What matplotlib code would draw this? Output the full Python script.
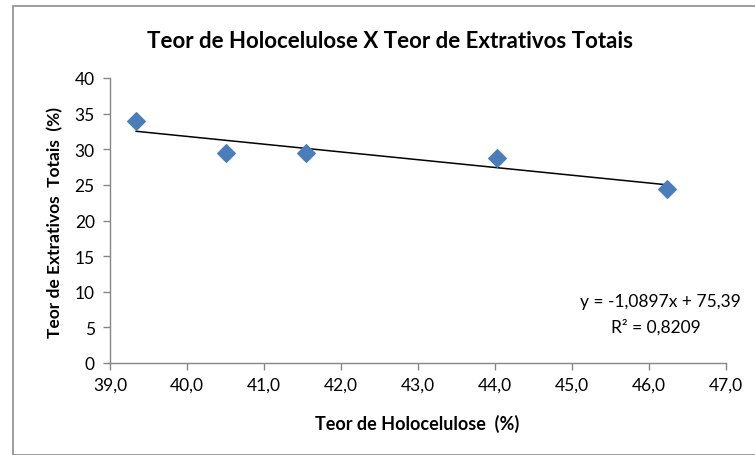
import matplotlib
matplotlib.use("Agg")
import matplotlib.pyplot as plt
import numpy as np
from matplotlib.patches import Rectangle

plt.rcParams['font.family'] = ['Lato', 'DejaVu Sans']

holocelulose = [39.34, 40.50, 41.55, 44.02, 46.24]
extrativos = [34.0, 29.5, 29.5, 28.8, 24.4]
slope = -1.0897
intercept = 75.39
x_ticks = [39, 40, 41, 42, 43, 44, 45, 46, 47]
y_ticks = [0, 5, 10, 15, 20, 25, 30, 35, 40]

fig = plt.figure(figsize=(7.55, 4.56), dpi=100)
fig.patches.append(Rectangle((13/755, 0), 1, 1 - 7/456, transform=fig.transFigure,
                             fill=False, edgecolor='#8c8c8c', linewidth=1.2))
ax = fig.add_axes([110/755, 1 - 364/456, (726 - 110)/755, (364 - 79)/456])

ax.scatter(holocelulose, extrativos, marker='D', s=80, color='#4a7ebb', zorder=3)
xf = np.array([min(holocelulose), max(holocelulose)])
ax.plot(xf, slope * xf + intercept, color='black', linewidth=1.1, zorder=2)

ax.set_xlim(39, 47)
ax.set_ylim(0, 40)
ax.set_xticks(x_ticks)
ax.set_xticklabels([f"{v:.1f}".replace('.', ',') for v in x_ticks])
ax.set_yticks(y_ticks)
ax.set_yticklabels([str(v) for v in y_ticks])
for s in ['top', 'right']:
    ax.spines[s].set_visible(False)
for s in ['left', 'bottom']:
    ax.spines[s].set_color('#868686')
    ax.spines[s].set_linewidth(1.0)
ax.tick_params(axis='both', colors='#868686', labelcolor='black', labelsize=12.5,
               length=5, width=1.0, direction='out')
ax.tick_params(axis='x', pad=5)
ax.tick_params(axis='y', pad=6)

fig.text(390/755, 1 - 42/456, 'Teor de Holocelulose X Teor de Extrativos Totais',
         ha='center', va='center', fontsize=16, fontweight='bold')
fig.text(417/755, 1 - 424/456, 'Teor de Holocelulose  (%)', ha='center', va='center',
         fontsize=13, fontweight='bold')
fig.text(55/755, 1 - 222/456, 'Teor de Extrativos  Totais  (%)',
         ha='center', va='center', fontsize=12.5, fontweight='bold', rotation=90)

fig.text(660/755, 1 - 302/456, 'y = -1,0897x + 75,39', ha='center',
         va='center', fontsize=12.5)
fig.text(656/755, 1 - 327/456, 'R² = 0,8209', ha='center',
         va='center', fontsize=12.5)

fig.savefig('out.png', dpi=100)
